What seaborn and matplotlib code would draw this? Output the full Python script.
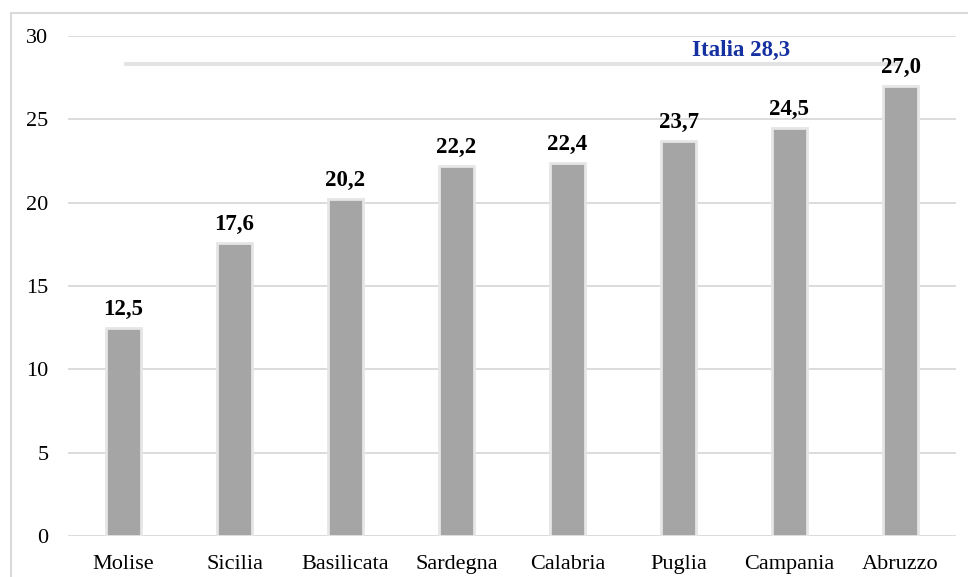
import matplotlib
matplotlib.use("Agg")
import matplotlib.pyplot as plt
import seaborn as sns
import pandas as pd
from matplotlib.patches import Rectangle

regions = ["Molise", "Sicilia", "Basilicata", "Sardegna", "Calabria", "Puglia", "Campania", "Abruzzo"]
values = [12.5, 17.6, 20.2, 22.2, 22.4, 23.7, 24.5, 27.0]
italia_value = 28.3
italia_label = "Italia 28,3"
yticks = [0, 5, 10, 15, 20, 25, 30]

sns.set_theme(style="white")
plt.rcParams["font.family"] = ["Liberation Serif", "DejaVu Serif"]

df = pd.DataFrame({"regione": regions, "valore": values})

fig = plt.figure(figsize=(9.68, 5.77), dpi=100)
ax = fig.add_axes([68 / 968, 1 - 536 / 577, (956 - 68) / 968, (536 - 36) / 577])

# figure border (left/top visible)
fig.patches.append(Rectangle((11 / 968, -0.1), 1.2, 1.1 - 13 / 577,
                             transform=fig.transFigure, fill=False,
                             edgecolor="#D9D9D9", linewidth=1.5, zorder=0))

ax.set_axisbelow(True)
ax.yaxis.grid(True, color="#D9D9D9", linewidth=1.3)
ax.xaxis.grid(False)

sns.barplot(data=df, x="regione", y="valore", color="#A5A5A5", saturation=1,
            width=0.31, edgecolor="#E6E6E6", linewidth=2.0, ax=ax, zorder=3)

for i, v in enumerate(values):
    ax.annotate(f"{v:.1f}".replace(".", ","), (i, v), xytext=(0, 9.5),
                textcoords="offset points", ha="center", va="baseline",
                fontsize=16.5, fontweight="bold", color="black")

ax.plot([0, len(regions) - 1], [italia_value, italia_value], color="#E3E3E3",
        linewidth=2.8, zorder=2, solid_capstyle="butt")
ax.text(5.56, 29.15, italia_label, ha="center", va="center", fontsize=16.5,
        fontweight="bold", color="#1530A0")

ax.set_ylim(0, 30)
ax.set_xlim(-0.5, len(regions) - 0.5)
ax.set_yticks(yticks)
ax.set_yticklabels([str(t) for t in yticks])
ax.tick_params(axis="y", length=0, pad=14, labelsize=16, colors="black")
ax.tick_params(axis="x", length=0, pad=14, labelsize=16, colors="black")
ax.set_xlabel("")
ax.set_ylabel("")
for s in ax.spines.values():
    s.set_visible(False)

fig.savefig("out.png", dpi=100, facecolor="white")
